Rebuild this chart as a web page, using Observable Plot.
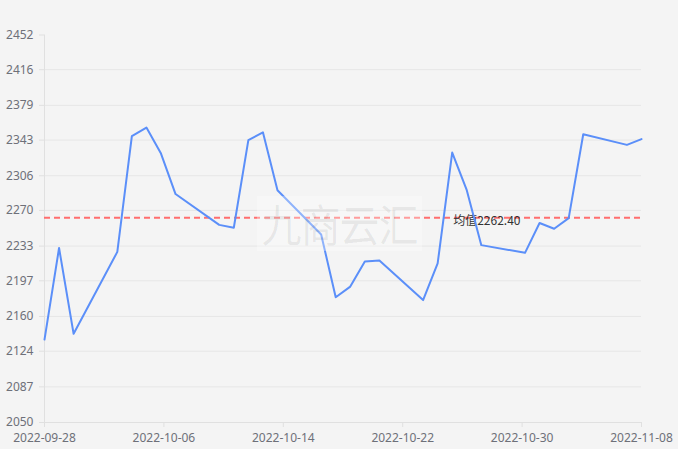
<!DOCTYPE html>
<html>
<head>
<meta charset="utf-8">
<script src="https://cdn.jsdelivr.net/npm/d3@7"></script>
<script src="https://cdn.jsdelivr.net/npm/@observablehq/plot@0.6"></script>
<style>
  html, body { margin: 0; padding: 0; background: #f4f4f4; }
  #wrap { position: relative; width: 678px; height: 449px; background: #f4f4f4; overflow: hidden; }
  #wrap svg { display: block; }
  #wm {
    position: absolute; left: 257px; top: 199px; width: 165px; height: 49px;
    background: rgba(255,255,255,0.32);
    font-family: "Noto Sans CJK SC", sans-serif; font-size: 40px; line-height: 49px;
    color: rgba(0,0,0,0.07); text-align: center; letter-spacing: -1px;
    transform: scaleY(1.12);
  }
</style>
</head>
<body>
<div id="wrap"></div>
<script>
const dates = ["2022-09-28","2022-09-29","2022-09-30","2022-10-03","2022-10-04","2022-10-05","2022-10-06","2022-10-07",
  "2022-10-10","2022-10-11","2022-10-12","2022-10-13","2022-10-14","2022-10-17","2022-10-18","2022-10-19","2022-10-20","2022-10-21",
  "2022-10-24","2022-10-25","2022-10-26","2022-10-27","2022-10-28","2022-10-31","2022-11-01","2022-11-02","2022-11-03","2022-11-04",
  "2022-11-07","2022-11-08"];
const values = [2136,2231,2142,2227,2347,2356,2329,2287,
  2255,2252,2343,2351,2291,2245,2180,2191,2217,2218,
  2177,2215,2330,2291,2234,2226,2257,2251,2262,2349,
  2338,2344];
const yTicks = [2050,2087,2124,2160,2197,2233,2270,2306,2343,2379,2416,2452];
const xTickLabels = ["2022-09-28","2022-10-06","2022-10-14","2022-10-22","2022-10-30","2022-11-08"];
const meanLabelPrefix = "均值";
const watermark = "九商云汇";

const parse = d3.utcParse("%Y-%m-%d");
const data = dates.map((d,i)=>({date: parse(d), value: values[i]}));
const mean = d3.mean(values);
const x0 = parse(xTickLabels[0]), x1 = parse(xTickLabels[xTickLabels.length-1]);
const xTickPos = xTickLabels.map((_,i)=> new Date(+x0 + i*(x1 - x0)/(xTickLabels.length-1)));

const chart = Plot.plot({
  width: 678, height: 449,
  marginLeft: 44, marginRight: 37, marginTop: 34.5, marginBottom: 27,
  style: {background: "#f4f4f4", fontFamily: "'Noto Sans', 'Noto Sans CJK SC', sans-serif", fontSize: "12px"},
  x: {type: "utc", domain: [x0, x1]},
  y: {domain: [yTicks[0], yTicks[yTicks.length-1]]},
  marks: [
    Plot.gridY(yTicks.slice(1, -1), {stroke: "#e6e6e6", strokeOpacity: 1, strokeWidth: 1}),
    Plot.ruleX([x0], {stroke: "#e0e0e0", strokeWidth: 1}),
    Plot.ruleY([yTicks[0]], {stroke: "#e0e0e0", strokeWidth: 1}),
    Plot.axisY(yTicks, {tickSize: 5, tickPadding: 6, stroke: "#e0e0e0", fill: "#6e7079", label: null, tickFormat: d => String(d)}),
    Plot.axisX(xTickPos, {tickSize: 5, tickPadding: 6, stroke: "#e0e0e0", fill: "#6e7079", label: null,
      tickFormat: (d,i)=> xTickLabels[i]}),
    Plot.ruleY([mean], {stroke: "#ff6e6e", strokeWidth: 2, strokeDasharray: "6,4"}),
    Plot.text([mean], {x: () => parse(dates[20]), y: d=>d, text: d=> meanLabelPrefix + d.toFixed(2),
      textAnchor: "start", lineAnchor: "middle", dy: 3, dx: 1, fill: "#333", fontSize: 12,
      fontFamily: "'Noto Sans CJK SC', sans-serif"}),
    Plot.line(data, {x: "date", y: "value", stroke: "#5b8ff9", strokeWidth: 2, curve: "linear"})
  ]
});
const wrap = document.getElementById("wrap");
wrap.appendChild(chart);
const wm = document.createElement("div");
wm.id = "wm";
wm.textContent = watermark;
wrap.appendChild(wm);
</script>
</body>
</html>
